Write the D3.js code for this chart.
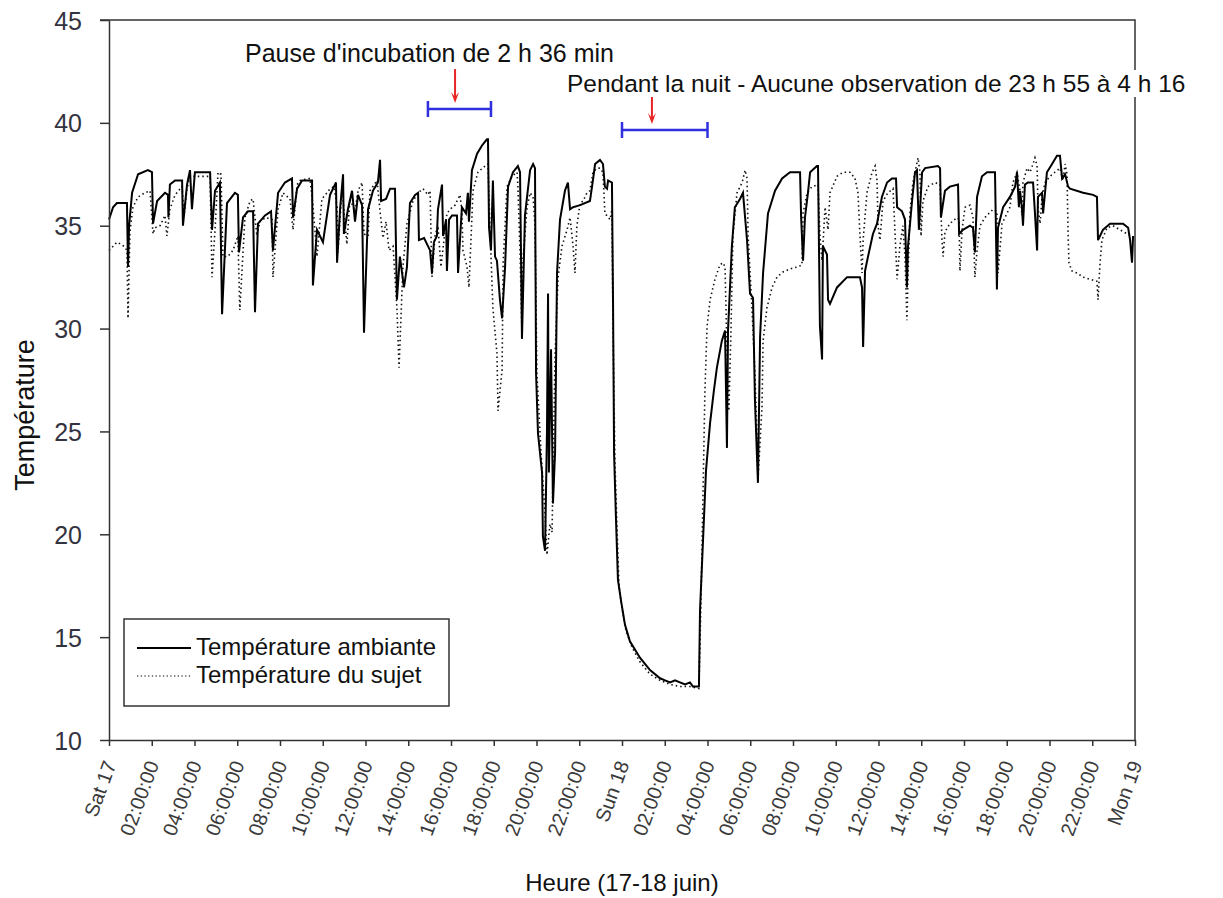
<!DOCTYPE html>
<html>
<head>
<meta charset="utf-8">
<script src="https://cdn.jsdelivr.net/npm/d3@7"></script>
<style>
  body { margin: 0; background: #fff; }
  text { font-family: "Liberation Sans", Arial, sans-serif; }
</style>
</head>
<body>
<svg id="chart"></svg>
<script>
// hours since Sat 17 00:00, temperature in °C
const ambient = [[0.00,35.3],[0.19,35.9],[0.37,36.1],[0.84,36.1],[0.89,33.0],[0.94,35.0],[1.08,36.6],[1.36,37.5],[1.82,37.7],[2.01,37.6],[2.06,35.1],[2.25,36.2],[2.62,36.6],[2.76,36.5],[2.78,35.4],[2.85,37.0],[3.09,37.2],[3.42,37.2],[3.46,35.0],[3.65,37.0],[3.79,37.7],[3.88,35.8],[4.02,37.6],[4.73,37.6],[4.82,34.8],[4.96,36.7],[5.19,37.1],[5.29,30.7],[5.52,36.1],[5.89,36.6],[6.03,36.5],[6.08,33.7],[6.27,35.4],[6.50,35.7],[6.74,35.7],[6.83,30.8],[6.97,35.1],[7.30,35.5],[7.58,35.7],[7.67,33.8],[7.91,36.6],[8.23,37.1],[8.56,37.3],[8.61,35.4],[8.80,36.8],[9.03,37.2],[9.50,37.2],[9.54,32.1],[9.73,34.8],[10.01,34.2],[10.34,36.5],[10.62,37.1],[10.67,33.2],[10.81,35.8],[10.95,37.5],[10.99,34.6],[11.18,35.8],[11.37,36.7],[11.51,35.2],[11.65,36.5],[11.84,36.0],[11.93,29.8],[12.12,35.8],[12.35,36.7],[12.58,37.1],[12.68,38.2],[12.73,36.2],[12.96,36.3],[13.15,36.8],[13.38,36.8],[13.47,31.4],[13.61,33.5],[13.80,32.0],[13.94,33.0],[14.08,36.1],[14.32,36.5],[14.46,36.6],[14.50,34.3],[14.74,34.4],[15.02,33.8],[15.11,32.7],[15.20,34.2],[15.34,34.5],[15.39,35.8],[15.58,37.0],[15.63,34.5],[15.77,35.3],[15.81,32.8],[15.91,35.3],[16.05,35.5],[16.28,35.5],[16.33,32.7],[16.51,35.9],[16.70,35.6],[16.79,36.6],[16.84,35.2],[16.98,37.7],[17.22,38.5],[17.45,38.9],[17.68,39.2],[17.73,39.2],[17.78,34.9],[17.87,33.8],[17.96,37.2],[18.06,33.5],[18.15,33.3],[18.29,31.4],[18.39,30.5],[18.53,33.0],[18.67,36.9],[18.90,37.6],[19.13,37.9],[19.23,37.6],[19.32,29.5],[19.46,35.5],[19.70,37.7],[19.84,38.0],[19.93,37.8],[19.98,27.8],[20.07,24.9],[20.26,23.0],[20.30,19.9],[20.40,19.2],[20.49,25.0],[20.54,31.7],[20.58,23.0],[20.68,29.0],[20.77,21.5],[20.87,24.0],[20.96,32.7],[21.10,35.3],[21.33,36.7],[21.47,37.1],[21.57,35.8],[21.71,35.9],[22.04,36.0],[22.50,36.2],[22.64,37.2],[22.74,38.0],[22.97,38.2],[23.11,38.0],[23.20,36.9],[23.30,36.8],[23.35,37.2],[23.53,37.1],[23.58,31.4],[23.63,23.9],[23.72,20.7],[23.81,17.8],[23.95,16.8],[24.14,15.6],[24.37,14.8],[24.84,14.0],[25.31,13.4],[25.78,13.0],[26.01,12.9],[26.25,12.8],[26.48,12.9],[26.71,12.8],[26.95,12.7],[27.18,12.8],[27.32,12.6],[27.60,12.6],[27.65,16.3],[27.79,19.7],[27.93,23.1],[28.12,25.4],[28.30,27.0],[28.44,28.1],[28.67,29.4],[28.82,29.9],[28.91,24.2],[28.96,29.9],[29.14,34.0],[29.28,35.9],[29.52,36.3],[29.66,36.6],[29.85,34.3],[29.99,31.7],[30.13,31.5],[30.22,26.5],[30.36,22.5],[30.46,29.6],[30.60,32.7],[30.83,35.6],[31.16,36.7],[31.49,37.3],[31.86,37.6],[32.33,37.6],[32.38,35.4],[32.47,33.3],[32.56,35.4],[32.70,36.6],[32.80,37.6],[33.12,37.9],[33.17,37.9],[33.26,30.1],[33.36,28.5],[33.40,34.0],[33.59,33.6],[33.64,31.4],[33.73,31.2],[34.06,32.0],[34.53,32.5],[35.13,32.5],[35.23,32.0],[35.28,29.1],[35.37,32.8],[35.51,33.5],[35.74,34.6],[35.93,35.1],[36.16,36.4],[36.40,37.1],[36.63,37.3],[36.82,37.3],[36.87,35.9],[37.10,35.7],[37.24,35.3],[37.33,32.0],[37.38,34.0],[37.57,36.2],[37.71,37.6],[37.80,37.7],[37.89,34.8],[38.04,37.6],[38.18,37.8],[38.78,37.9],[38.88,37.8],[38.92,35.4],[39.11,36.7],[39.34,36.9],[39.72,37.0],[39.77,34.6],[39.95,34.8],[40.28,35.0],[40.42,34.9],[40.51,33.7],[40.61,36.4],[40.84,37.4],[41.08,37.6],[41.45,37.6],[41.54,31.9],[41.59,34.9],[41.83,35.9],[42.15,36.4],[42.39,36.9],[42.48,37.6],[42.57,35.9],[42.62,36.7],[42.71,35.9],[42.76,35.0],[42.85,37.0],[42.99,37.1],[43.23,37.1],[43.32,35.6],[43.42,33.8],[43.46,36.4],[43.65,36.6],[43.70,35.6],[43.88,37.6],[44.12,38.0],[44.35,38.4],[44.49,38.4],[44.59,37.3],[44.73,37.5],[44.87,36.9],[44.96,36.8],[45.57,36.6],[46.04,36.5],[46.22,36.4],[46.27,34.3],[46.50,34.8],[46.83,35.1],[47.16,35.1],[47.44,35.1],[47.68,34.9],[47.77,34.3],[47.86,33.2],[47.91,34.5]];

const subject = [[0.00,33.8],[0.19,34.0],[0.37,34.2],[0.56,34.1],[0.70,34.0],[0.84,33.8],[0.89,30.5],[0.98,34.7],[1.12,35.9],[1.36,36.4],[1.68,36.6],[1.92,36.7],[2.06,34.6],[2.15,34.9],[2.39,35.0],[2.62,35.5],[2.71,34.5],[2.85,35.8],[3.09,36.5],[3.42,36.9],[3.51,35.5],[3.65,36.8],[3.79,37.4],[4.02,37.4],[4.73,37.4],[4.82,32.5],[4.96,34.8],[5.10,37.6],[5.24,37.5],[5.33,33.5],[5.56,33.5],[5.80,33.8],[6.03,34.5],[6.12,30.9],[6.36,35.4],[6.60,36.2],[6.74,36.3],[6.92,34.5],[7.06,35.2],[7.34,35.4],[7.63,35.3],[7.67,32.5],[7.91,35.8],[8.14,36.6],[8.47,36.3],[8.61,34.8],[8.80,37.0],[8.94,37.2],[9.40,37.3],[9.54,36.0],[9.73,33.5],[9.96,36.3],[10.20,36.6],[10.34,36.8],[10.53,36.9],[10.67,35.9],[10.71,33.7],[10.90,36.8],[11.13,34.1],[11.27,36.3],[11.51,35.7],[11.65,36.7],[11.84,37.1],[11.93,34.6],[12.12,34.5],[12.21,36.7],[12.54,37.2],[12.68,35.7],[12.82,34.4],[12.96,35.2],[13.10,33.8],[13.29,34.0],[13.47,31.0],[13.57,28.1],[13.75,33.0],[13.94,35.1],[14.22,36.2],[14.46,36.6],[14.69,36.8],[14.92,36.5],[15.02,36.7],[15.11,32.5],[15.25,34.5],[15.39,35.0],[15.53,33.0],[15.81,35.6],[16.05,35.9],[16.19,36.0],[16.42,36.5],[16.51,35.7],[16.56,33.8],[16.75,33.0],[16.84,32.0],[17.03,36.7],[17.26,37.6],[17.59,37.9],[17.73,38.0],[17.82,35.0],[17.96,31.0],[18.15,28.8],[18.20,26.0],[18.39,28.0],[18.44,33.2],[18.62,36.9],[18.85,37.4],[19.09,37.6],[19.13,36.9],[19.23,33.7],[19.32,29.8],[19.37,33.4],[19.56,35.9],[19.70,36.6],[19.84,36.4],[19.93,35.0],[20.02,27.8],[20.21,24.0],[20.40,21.0],[20.49,19.0],[20.63,20.5],[20.73,20.1],[20.77,23.0],[20.87,28.8],[21.01,32.5],[21.19,34.0],[21.43,34.8],[21.57,35.4],[21.71,34.0],[21.80,32.7],[21.89,35.0],[22.04,36.1],[22.18,36.2],[22.36,36.6],[22.50,36.7],[22.64,37.6],[22.83,37.8],[22.97,37.8],[23.11,37.6],[23.20,35.6],[23.44,35.3],[23.53,35.8],[23.58,30.0],[23.67,23.5],[23.77,20.2],[23.86,17.5],[24.00,16.4],[24.19,15.3],[24.47,14.5],[24.84,13.8],[25.31,13.2],[25.78,12.9],[26.25,12.7],[26.71,12.6],[27.18,12.6],[27.60,12.5],[27.70,17.0],[27.79,22.0],[27.88,27.0],[27.98,30.1],[28.12,31.4],[28.35,32.4],[28.58,33.1],[28.72,33.2],[28.82,33.0],[28.91,29.0],[29.00,26.0],[29.10,30.0],[29.19,34.5],[29.38,36.6],[29.62,37.1],[29.76,37.7],[29.85,37.3],[29.90,34.5],[30.08,31.0],[30.22,27.8],[30.32,24.6],[30.36,22.6],[30.55,26.2],[30.60,29.4],[30.78,31.0],[31.02,32.0],[31.25,32.5],[31.53,32.75],[31.86,32.9],[32.23,33.0],[32.42,33.1],[32.47,35.6],[32.66,36.6],[32.89,36.9],[33.17,37.0],[33.26,34.5],[33.36,33.3],[33.50,35.9],[33.64,34.8],[33.73,36.6],[34.06,37.4],[34.34,37.6],[34.67,37.6],[34.90,37.3],[35.04,36.6],[35.13,34.6],[35.23,32.7],[35.28,34.3],[35.46,36.6],[35.70,37.6],[35.84,37.9],[35.93,37.2],[35.98,35.0],[36.07,34.3],[36.21,36.2],[36.44,36.6],[36.68,36.8],[36.87,32.4],[37.00,34.0],[37.14,35.0],[37.24,33.5],[37.33,30.4],[37.38,32.5],[37.47,35.6],[37.61,37.1],[37.85,38.3],[37.94,37.6],[37.99,34.5],[38.08,36.2],[38.31,36.9],[38.64,37.1],[38.88,37.0],[38.97,34.3],[39.02,33.5],[39.11,34.7],[39.34,35.1],[39.67,35.4],[39.77,35.3],[39.81,32.8],[39.91,34.8],[40.05,35.9],[40.28,36.0],[40.42,35.4],[40.51,32.5],[40.61,33.8],[40.75,35.0],[40.98,35.4],[41.36,35.8],[41.54,35.7],[41.59,32.7],[41.78,35.1],[42.15,35.9],[42.29,37.1],[42.48,37.6],[42.62,36.7],[42.71,35.5],[42.76,37.1],[42.95,37.8],[43.09,37.6],[43.23,38.0],[43.32,38.3],[43.42,37.9],[43.46,35.9],[43.56,35.1],[43.65,36.4],[43.79,37.1],[44.02,37.4],[44.26,37.6],[44.49,37.8],[44.63,37.2],[44.73,38.0],[44.82,37.5],[44.87,34.6],[44.91,33.2],[45.05,32.8],[45.29,32.7],[45.57,32.5],[45.89,32.4],[46.22,32.3],[46.27,31.4],[46.36,33.1],[46.45,34.3],[46.69,34.9],[46.97,35.0],[47.30,34.8],[47.63,34.6],[47.86,34.5]];

const yTicks = [10, 15, 20, 25, 30, 35, 40, 45];
const xTickHours = [0, 2, 4, 6, 8, 10, 12, 14, 16, 18, 20, 22, 24, 26, 28, 30, 32, 34, 36, 38, 40, 42, 44, 46, 48];
const xTickLabels = ['Sat 17', '02:00:00', '04:00:00', '06:00:00', '08:00:00', '10:00:00', '12:00:00', '14:00:00', '16:00:00', '18:00:00', '20:00:00', '22:00:00',
  'Sun 18', '02:00:00', '04:00:00', '06:00:00', '08:00:00', '10:00:00', '12:00:00', '14:00:00', '16:00:00', '18:00:00', '20:00:00', '22:00:00', 'Mon 19'];
const legendLabels = ['Température ambiante', 'Température du sujet'];

// annotations: [start hour, end hour], bracket level (°C), arrow hour
const pauseSpan = [14.92, 17.87];
const pauseLevel = 40.67;
const pauseArrow = 16.19;
const pauseText = "Pause d'incubation de 2 h 36 min";
const nightSpan = [24.0, 28.0];
const nightLevel = 39.65;
const nightArrow = 25.4;
const nightText = 'Pendant la nuit - Aucune observation de 23 h 55 à 4 h 16';

const margin = { top: 20, right: 88, bottom: 158, left: 109 };
const width = 1223 - margin.left - margin.right;
const height = 898 - margin.top - margin.bottom;

const svg = d3.select('#chart')
  .attr('width', 1223)
  .attr('height', 898);

const g = svg.append('g')
  .attr('transform', `translate(${margin.left}, ${margin.top})`);

const x = d3.scaleLinear().domain([0, 48]).range([0, width]);
const y = d3.scaleLinear().domain([10, 45]).range([height, 0]);

const line = d3.line()
  .x(d => x(d[0]))
  .y(d => y(d[1]));

// series
g.append('path')
  .datum(subject)
  .attr('fill', 'none')
  .attr('stroke', '#111')
  .attr('stroke-width', 1.6)
  .attr('stroke-dasharray', '1.5 3')
  .attr('d', line);

g.append('path')
  .datum(ambient)
  .attr('fill', 'none')
  .attr('stroke', '#000')
  .attr('stroke-width', 2)
  .attr('stroke-linejoin', 'miter')
  .attr('d', line);

// frame (top and right)
g.append('path')
  .attr('d', `M-9,0H${width}V${height}`)
  .attr('fill', 'none')
  .attr('stroke', '#333')
  .attr('stroke-width', 1.5);

// axes
const yAxis = g.append('g')
  .call(d3.axisLeft(y).tickValues(yTicks).tickSize(9).tickSizeOuter(0).tickPadding(18));
yAxis.selectAll('path, line').attr('stroke', '#333').attr('stroke-width', 1.5);
yAxis.selectAll('text')
  .attr('fill', '#333340')
  .style('font-size', '25px')
  .attr('dy', '0.36em');

const xAxis = g.append('g')
  .attr('transform', `translate(0, ${height})`)
  .call(d3.axisBottom(x).tickValues(xTickHours).tickSize(6).tickSizeOuter(0)
    .tickFormat((d, i) => xTickLabels[i]));
xAxis.selectAll('path, line').attr('stroke', '#333').attr('stroke-width', 1.5);
xAxis.selectAll('text')
  .attr('x', 0)
  .attr('y', 0)
  .attr('dy', 0)
  .attr('fill', '#3a3a3a')
  .style('font-size', '20px')
  .attr('text-anchor', 'end')
  .attr('transform', 'translate(7, 24) rotate(-70)');

// axis titles
svg.append('text')
  .attr('x', margin.left + width / 2)
  .attr('y', 891)
  .attr('text-anchor', 'middle')
  .attr('fill', '#111')
  .style('font-size', '24px')
  .text('Heure (17-18 juin)');

svg.append('text')
  .attr('transform', `translate(34, ${margin.top + height / 2 + 35}) rotate(-90)`)
  .attr('text-anchor', 'middle')
  .attr('fill', '#111')
  .style('font-size', '27px')
  .text('Température');

// annotations
const drawSpan = (span, level, arrowHour, arrowLen) => {
  const by = y(level);
  g.append('path')
    .attr('d', `M${x(span[0])},${by - 8}V${by + 8}M${x(span[0])},${by}H${x(span[1])}M${x(span[1])},${by - 8}V${by + 8}`)
    .attr('fill', 'none')
    .attr('stroke', '#2f2fe0')
    .attr('stroke-width', 2.5);
  const ax = x(arrowHour);
  const tip = by - 6;
  g.append('line')
    .attr('x1', ax).attr('x2', ax)
    .attr('y1', tip - arrowLen).attr('y2', tip - 4)
    .attr('stroke', '#e82424')
    .attr('stroke-width', 2);
  g.append('path')
    .attr('d', `M${ax - 4},${tip - 11}L${ax},${tip}L${ax + 4},${tip - 11}L${ax},${tip - 6}Z`)
    .attr('fill', '#e82424');
};

drawSpan(pauseSpan, pauseLevel, pauseArrow, 34);
drawSpan(nightSpan, nightLevel, nightArrow, 28);

svg.append('text')
  .attr('x', 245)
  .attr('y', 62)
  .attr('fill', '#111')
  .style('font-size', '25px')
  .text(pauseText);

const nightLabel = svg.append('text')
  .attr('x', 567)
  .attr('y', 92)
  .attr('fill', '#111')
  .style('font-size', '24.5px')
  .text(nightText);
const bb = nightLabel.node().getBBox();
svg.insert('rect', () => nightLabel.node())
  .attr('x', bb.x - 2)
  .attr('y', bb.y)
  .attr('width', bb.width + 4)
  .attr('height', bb.height)
  .attr('fill', '#fff');

// legend
const legend = g.append('g')
  .attr('transform', 'translate(15, 599)');
legend.append('rect')
  .attr('width', 325)
  .attr('height', 87)
  .attr('fill', '#fff')
  .attr('stroke', '#333')
  .attr('stroke-width', 1.5);
legend.selectAll('line')
  .data(legendLabels)
  .enter()
  .append('line')
  .attr('x1', 13).attr('x2', 67)
  .attr('y1', (d, i) => 29 + i * 28)
  .attr('y2', (d, i) => 29 + i * 28)
  .attr('stroke', (d, i) => i === 0 ? '#000' : '#555')
  .attr('stroke-width', (d, i) => i === 0 ? 1.8 : 1.4)
  .attr('stroke-dasharray', (d, i) => i === 0 ? null : '1.3 2.4');
legend.selectAll('text')
  .data(legendLabels)
  .enter()
  .append('text')
  .attr('x', 72)
  .attr('y', (d, i) => 36 + i * 28)
  .attr('fill', '#111')
  .style('font-size', '24px')
  .text(d => d);
</script>
</body>
</html>
